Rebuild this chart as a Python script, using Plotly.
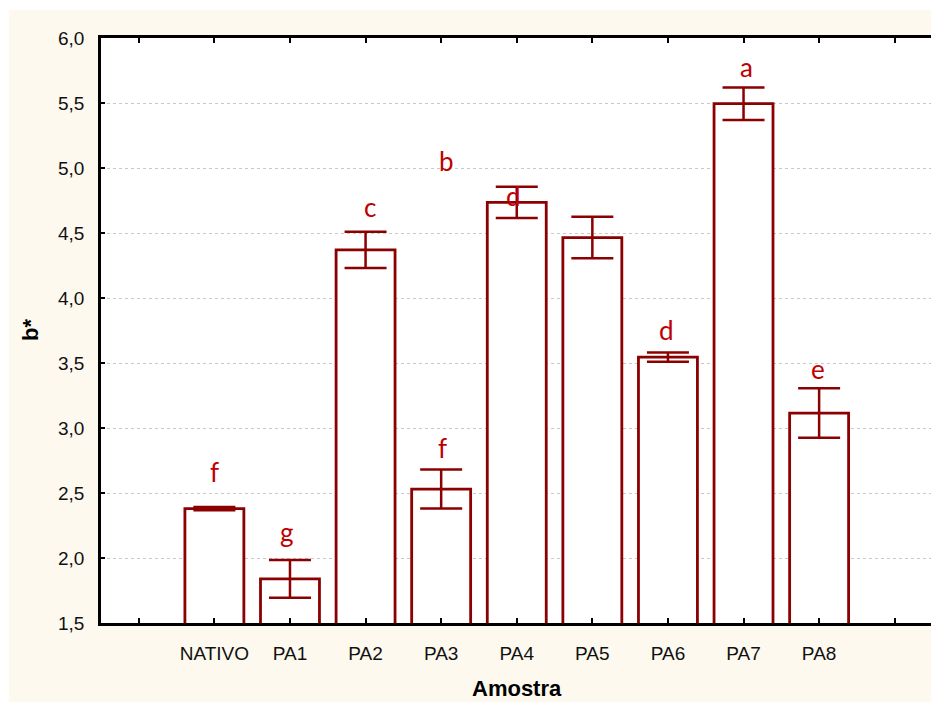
import plotly.graph_objects as go

categories = ["NATIVO", "PA1", "PA2", "PA3", "PA4", "PA5", "PA6", "PA7", "PA8"]
means = [2.38, 1.84, 4.37, 2.53, 4.735, 4.465, 3.545, 5.495, 3.115]
errors = [0.012, 0.145, 0.14, 0.15, 0.12, 0.16, 0.035, 0.125, 0.19]

letters = ["f", "g", "c", "f", "b", "d", "d", "a", "e"]
letter_x = [0.0, 0.966, 2.063, 3.016, 3.069, 3.955, 5.979, 7.037, 7.989]
letter_y = [2.66, 2.20, 4.70, 2.845, 5.055, 4.785, 3.755, 5.78, 3.455]

tick_vals = list(range(-1, 10))
tick_text = [""] + categories + [""]
y_ticks = [1.5, 2.0, 2.5, 3.0, 3.5, 4.0, 4.5, 5.0, 5.5, 6.0]

DARK_RED = "#8b0000"
CREAM = "#fdf9ee"

x_pos = list(range(len(categories)))

fig = go.Figure()
fig.add_trace(go.Bar(
    x=x_pos, y=means, width=0.78,
    marker=dict(color="white", line=dict(color=DARK_RED, width=2.8)),
    error_y=dict(type="data", array=errors, visible=True,
                 color=DARK_RED, thickness=2.5, width=21),
    showlegend=False,
))

annotations = []
for t, lx, ly in zip(letters, letter_x, letter_y):
    annotations.append(dict(x=lx, y=ly, xref="x", yref="y", text=t,
                            showarrow=False, xanchor="center", yanchor="middle",
                            font=dict(family="Lato", size=26, color="#c00000")))

W, H = 931, 702
L, R, T, B = 101, 0, 38, 79
pw, ph = W - L - R, H - T - B

annotations.append(dict(text="Amostra", xref="paper", yref="paper",
                        x=(517 - L) / pw, y=-(688 - (H - B)) / ph,
                        showarrow=False, xanchor="center", yanchor="middle",
                        font=dict(family="Liberation Sans", size=22, color="black", weight="bold")))
annotations.append(dict(text="b*", xref="paper", yref="paper",
                        x=(30 - L) / pw, y=1 - (330 - T) / ph, textangle=-90,
                        showarrow=False, xanchor="center", yanchor="middle",
                        font=dict(family="Liberation Sans", size=22, color="black", weight="bold")))

shapes = [
    dict(type="rect", xref="paper", yref="paper", layer="below",
         x0=-L / pw - 0.01, x1=(9 - L) / pw, y0=-B / ph - 0.01, y1=1 + T / ph + 0.01,
         fillcolor="white", line=dict(width=0)),
    dict(type="rect", xref="paper", yref="paper", layer="below",
         x0=-L / pw - 0.01, x1=1.01, y0=1 + (T - 10) / ph, y1=1 + T / ph + 0.01,
         fillcolor="white", line=dict(width=0)),
]

fig.update_layout(
    width=W, height=H,
    margin=dict(l=L, r=R, t=T, b=B, pad=0),
    paper_bgcolor=CREAM, plot_bgcolor="white",
    separators=",.",
    font=dict(family="Liberation Sans", size=19, color="black"),
    annotations=annotations, shapes=shapes,
    bargap=0.22,
)
fig.update_xaxes(
    range=[-1.5, 9.48], tickmode="array", tickvals=tick_vals, ticktext=tick_text,
    ticks="inside", ticklen=5, tickwidth=2, tickcolor="black",
    showline=True, linecolor="black", linewidth=2.5, mirror="allticks",
    showgrid=False, zeroline=False, ticklabelstandoff=11,
    tickfont=dict(family="Liberation Sans", size=19, color="#111111"),
)
fig.update_yaxes(
    range=[1.5, 6.0], tickmode="array", tickvals=y_ticks, tickformat=".1f",
    ticks="inside", ticklen=4, tickwidth=2, tickcolor="black",
    showline=True, linecolor="black", linewidth=2.5,
    showgrid=True, gridcolor="#c8c8c8", griddash="dot", gridwidth=1,
    zeroline=False, ticklabelstandoff=10,
    tickfont=dict(family="Liberation Sans", size=19, color="#111111"),
)

fig.write_html("out.html")
